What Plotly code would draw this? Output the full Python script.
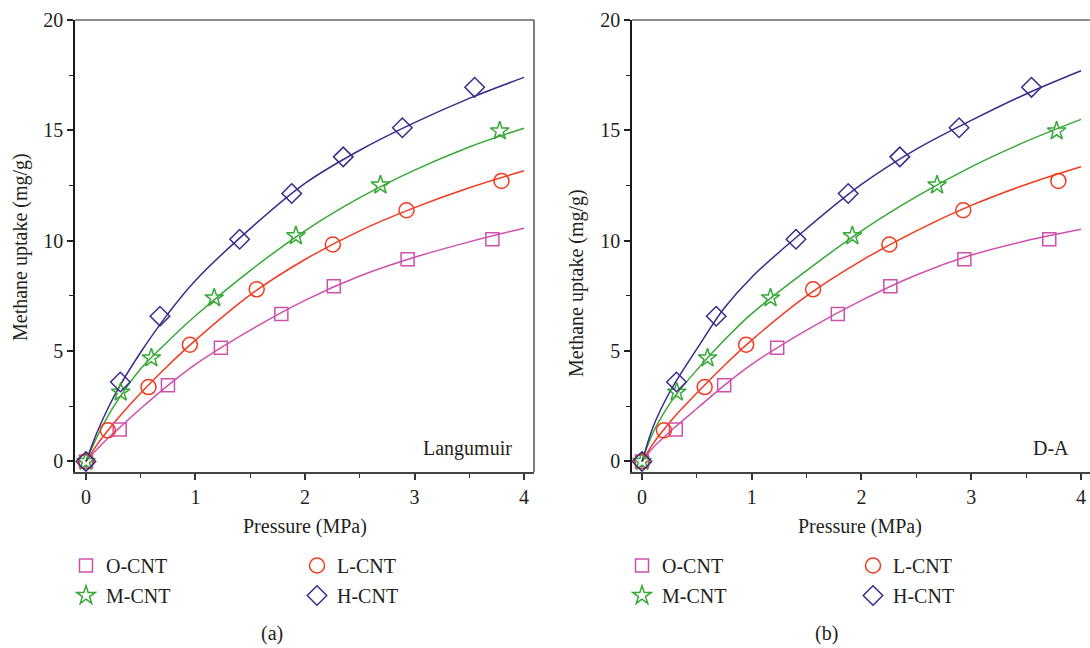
import plotly.graph_objects as go

W, H = 1090, 648

# ---------------- data ----------------
series_names = ["O-CNT", "L-CNT", "M-CNT", "H-CNT"]

o_cnt_p = [0, 0.308, 0.749, 1.232, 1.784, 2.263, 2.937, 3.711]
o_cnt_q = [0, 1.45, 3.45, 5.15, 6.68, 7.94, 9.16, 10.07]
l_cnt_p = [0, 0.20, 0.571, 0.949, 1.559, 2.254, 2.927, 3.794]
l_cnt_q = [0, 1.41, 3.37, 5.29, 7.80, 9.83, 11.38, 12.71]
m_cnt_p = [0, 0.317, 0.597, 1.171, 1.917, 2.689, 3.778]
m_cnt_q = [0, 3.14, 4.69, 7.41, 10.22, 12.52, 14.97]
h_cnt_p = [0, 0.314, 0.676, 1.403, 1.879, 2.349, 2.889, 3.549]
h_cnt_q = [0, 3.60, 6.58, 10.07, 12.14, 13.80, 15.12, 16.95]

fit_p = [0, 0.1, 0.2, 0.3, 0.5, 0.75, 1.0, 1.5, 2.0, 2.5, 3.0, 3.5, 4.0]
lang_o = [0, 0.55, 1.05, 1.5, 2.4, 3.45, 4.4, 5.95, 7.3, 8.4, 9.25, 9.95, 10.57]
lang_l = [0, 0.75, 1.4, 2.0, 3.1, 4.35, 5.5, 7.55, 9.15, 10.45, 11.5, 12.4, 13.17]
lang_m = [0, 1.1, 2.05, 2.85, 4.2, 5.45, 6.6, 8.65, 10.45, 11.95, 13.2, 14.25, 15.1]
lang_h = [0, 1.3, 2.4, 3.35, 4.95, 6.7, 8.2, 10.55, 12.6, 14.1, 15.35, 16.45, 17.4]
da_o = [0, 0.62, 1.1, 1.55, 2.4, 3.45, 4.4, 5.95, 7.3, 8.45, 9.35, 10.0, 10.52]
da_l = [0, 0.8, 1.45, 2.05, 3.1, 4.35, 5.5, 7.5, 9.1, 10.45, 11.6, 12.55, 13.35]
da_m = [0, 1.3, 2.2, 2.95, 4.15, 5.5, 6.7, 8.65, 10.45, 12.0, 13.35, 14.5, 15.5]
da_h = [0, 1.55, 2.65, 3.55, 5.1, 6.95, 8.35, 10.55, 12.55, 14.15, 15.45, 16.65, 17.7]

x_ticks = [0, 1, 2, 3, 4]
y_ticks = [0, 5, 10, 15, 20]
panel_labels = ["Langumuir", "D-A"]
sub_labels = ["(a)", "(b)"]

# ---------------- styling ----------------
FONT = "Liberation Serif, Times New Roman, serif"
TXT = "#231F20"
colors = {"O-CNT": "#CF50AC", "L-CNT": "#F23A1E", "M-CNT": "#36A836", "H-CNT": "#3A2A8A"}
symbols = {"O-CNT": "square-open", "L-CNT": "circle-open", "M-CNT": "star-open", "H-CNT": "diamond-open"}
sizes = {"O-CNT": 13, "L-CNT": 15, "M-CNT": 14, "H-CNT": 15}
points = {"O-CNT": (o_cnt_p, o_cnt_q), "L-CNT": (l_cnt_p, l_cnt_q),
          "M-CNT": (m_cnt_p, m_cnt_q), "H-CNT": (h_cnt_p, h_cnt_q)}
fits = [{"O-CNT": lang_o, "L-CNT": lang_l, "M-CNT": lang_m, "H-CNT": lang_h},
        {"O-CNT": da_o, "L-CNT": da_l, "M-CNT": da_m, "H-CNT": da_h}]

legend_of = [{"O-CNT": "legend", "M-CNT": "legend", "L-CNT": "legend2", "H-CNT": "legend2"},
             {"O-CNT": "legend3", "M-CNT": "legend3", "L-CNT": "legend4", "H-CNT": "legend4"}]

fig = go.Figure()
axes = [("x", "y"), ("x2", "y2")]
for pi, (xa, ya) in enumerate(axes):
    for name in series_names:
        fig.add_trace(go.Scatter(x=fit_p, y=fits[pi][name], mode="lines", xaxis=xa, yaxis=ya,
                                 line=dict(color=colors[name], width=1.5, shape="spline", smoothing=1.0),
                                 showlegend=False, hoverinfo="skip"))
    for name in ["O-CNT", "M-CNT", "L-CNT", "H-CNT"]:
        px_, qy = points[name]
        fig.add_trace(go.Scatter(x=px_, y=qy, mode="markers", name=name, xaxis=xa, yaxis=ya,
                                 marker=dict(symbol=symbols[name], size=sizes[name], color=colors[name],
                                             line=dict(color=colors[name], width=1.5)),
                                 legend=legend_of[pi][name], legendgroup=f"{name}{pi}"))

def px2x(p):
    return p / W

def py2y(p):
    return 1 - p / H

ydom = [py2y(472), py2y(20)]
xdoms = [[px2x(75), px2x(534)], [px2x(632), 1.0]]
xranges = [[-0.1, 4.091], [-0.091, 4.082]]

axis_font = dict(family=FONT, size=20, color=TXT)
for i, (xa, ya) in enumerate(axes):
    sx = "xaxis" if i == 0 else "xaxis2"
    sy = "yaxis" if i == 0 else "yaxis2"
    fig.layout[sx] = dict(domain=xdoms[i], range=xranges[i], anchor=ya, showgrid=False, zeroline=False,
                          tickvals=x_ticks, ticks="outside", ticklen=6, tickwidth=1.5, tickcolor="#333",
                          showline=True, linecolor="#444", linewidth=1.5, tickfont=axis_font,
                          minor=dict(dtick=0.5, tick0=0, ticks="outside", ticklen=4, tickwidth=1.3, tickcolor="#333"),
                          fixedrange=True, automargin=False)
    fig.layout[sy] = dict(domain=ydom, range=[-0.476, 20], anchor=xa, showgrid=False, zeroline=False,
                          tickvals=y_ticks, ticks="outside", ticklen=6, tickwidth=1.5, tickcolor="#222",
                          showline=True, linecolor="#1a1a1a", linewidth=1.5, tickfont=axis_font,
                          minor=dict(dtick=2.5, tick0=0, ticks="outside", ticklen=4, tickwidth=1.3, tickcolor="#222"),
                          fixedrange=True, automargin=False)

shapes = [
    dict(type="line", xref="x domain", yref="y domain", x0=0, x1=1, y0=1, y1=1, line=dict(color="#666", width=1.5)),
    dict(type="line", xref="x domain", yref="y domain", x0=1, x1=1, y0=0, y1=1, line=dict(color="#555", width=1.5)),
    dict(type="line", xref="x2 domain", yref="y2 domain", x0=0, x1=1, y0=1, y1=1, line=dict(color="#666", width=1.5)),
]

ann_font = dict(family=FONT, size=20, color=TXT)
annotations = [
    dict(text="Methane uptake (mg/g)", x=px2x(20), y=py2y(247), xref="paper", yref="paper",
         textangle=-90, showarrow=False, font=ann_font, xanchor="center", yanchor="middle"),
    dict(text="Methane uptake (mg/g)", x=px2x(576), y=py2y(283), xref="paper", yref="paper",
         textangle=-90, showarrow=False, font=ann_font, xanchor="center", yanchor="middle"),
    dict(text="Pressure (MPa)", x=px2x(305), y=py2y(526), xref="paper", yref="paper",
         showarrow=False, font=ann_font, xanchor="center", yanchor="middle"),
    dict(text="Pressure (MPa)", x=px2x(860), y=py2y(526), xref="paper", yref="paper",
         showarrow=False, font=ann_font, xanchor="center", yanchor="middle"),
    dict(text=panel_labels[0], x=px2x(514), y=py2y(448), xref="paper", yref="paper",
         showarrow=False, font=ann_font, xanchor="right", yanchor="middle"),
    dict(text=panel_labels[1], x=px2x(1071), y=py2y(448), xref="paper", yref="paper",
         showarrow=False, font=ann_font, xanchor="right", yanchor="middle"),
    dict(text=sub_labels[0], x=px2x(272), y=py2y(633), xref="paper", yref="paper",
         showarrow=False, font=ann_font, xanchor="center", yanchor="middle"),
    dict(text=sub_labels[1], x=px2x(826), y=py2y(633), xref="paper", yref="paper",
         showarrow=False, font=ann_font, xanchor="center", yanchor="middle"),
]

leg_font = dict(family=FONT, size=20, color=TXT)
def leg(xpx):
    return dict(x=px2x(xpx), y=py2y(546), xanchor="left", yanchor="top", font=leg_font,
                bgcolor="rgba(0,0,0,0)", borderwidth=0, tracegroupgap=1, orientation="v",
                traceorder="grouped")

fig.update_layout(
    width=W, height=H, margin=dict(l=0, r=0, t=0, b=0, autoexpand=False),
    paper_bgcolor="white", plot_bgcolor="white",
    shapes=shapes, annotations=annotations,
    legend=leg(66), legend2=leg(297), legend3=leg(622), legend4=leg(853),
    font=dict(family=FONT, color=TXT),
)

fig.write_html(
    "out.html",
    config={"displayModeBar": False},
    post_script="document.body.style.margin='0px';document.body.style.padding='0px';"
                "document.body.style.overflow='hidden';",
)
